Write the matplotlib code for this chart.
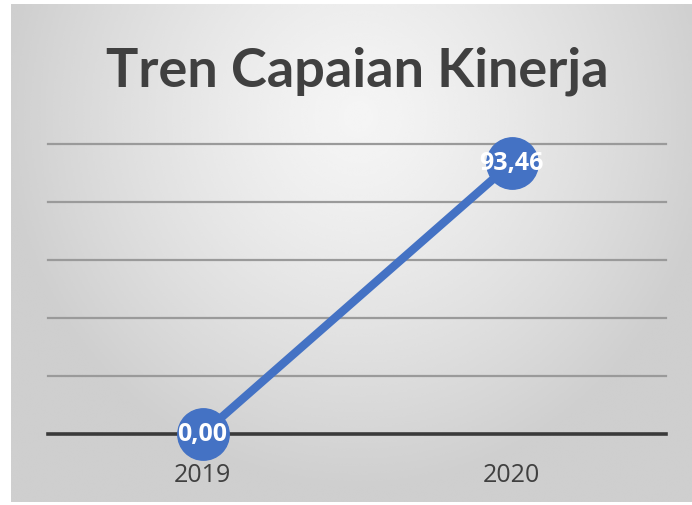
import numpy as np
import matplotlib.pyplot as plt

# data
years = ['2019', '2020']
capaian = [0.00, 93.46]
labels = ['0,00', '93,46']

blue = '#4472C4'
txt = '#404040'

fig = plt.figure(figsize=(6.92, 5.06), dpi=100)
fig.patch.set_facecolor('white')

# chart area with a soft radial gradient
bg = fig.add_axes([11 / 692, 3 / 506, 681 / 692, 498 / 506])
gx, gy = np.meshgrid(np.linspace(-1, 1, 400), np.linspace(-1, 1, 300))
r = np.sqrt(((gx - 0.02) / 1.05) ** 2 + ((gy - 0.55) / 1.5) ** 2)
r = np.clip(r, 0, 1)
shade = 0.96 - 0.15 * r ** 1.3
bg.imshow(shade, cmap='gray', vmin=0, vmax=1, origin='lower',
          aspect='auto', extent=[0, 1, 0, 1], interpolation='bicubic')
bg.set_axis_off()

fig.text(0.517, 0.86, 'Tren Capaian Kinerja', ha='center', va='center',
         fontsize=39, fontweight='bold', color=txt, family='Lato')

ax = fig.add_axes([48 / 692, 71 / 506, 618 / 692, 290 / 506])
ax.patch.set_alpha(0)
x = np.arange(len(years))
ax.plot(x, capaian, color=blue, linewidth=6, marker='o', markersize=37,
        markerfacecolor=blue, markeredgecolor=blue, solid_capstyle='round',
        zorder=3, clip_on=False)
for xi, yi, lab in zip(x, capaian, labels):
    ax.text(xi, yi, lab, ha='center', va='center', color='white',
            fontsize=18, fontweight='bold', family='Open Sans', zorder=4)

ax.set_xlim(-0.5, 1.5)
ax.set_ylim(0, 100)
ax.set_yticks(np.arange(20, 101, 20))
ax.yaxis.grid(True, color='#9a9a9a', linewidth=1.6)
for gl in ax.get_ygridlines():
    gl.set_clip_on(False)
ax.set_axisbelow(True)
ax.set_xticks(x)
ax.set_xticklabels(years, fontsize=18, color=txt, family='Open Sans')
ax.tick_params(axis='x', length=0, pad=20)
ax.tick_params(axis='y', length=0, labelleft=False)
for s in ['top', 'right', 'left']:
    ax.spines[s].set_visible(False)
ax.spines['bottom'].set_color('#3a3a3a')
ax.spines['bottom'].set_linewidth(2.6)
ax.spines['bottom'].set_zorder(2)

fig.savefig('out.png', dpi=100)
